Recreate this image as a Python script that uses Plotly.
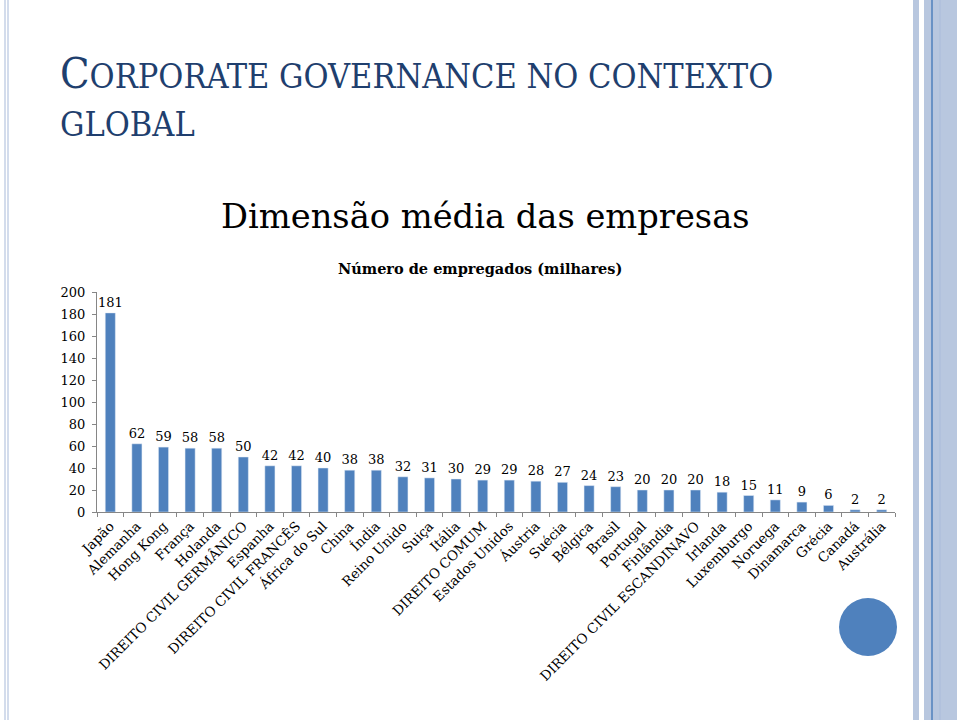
import plotly.graph_objects as go

categories = ["Japão", "Alemanha", "Hong Kong", "França", "Holanda",
              "DIREITO CIVIL GERMÂNICO", "Espanha", "DIREITO CIVIL FRANCÊS",
              "África do Sul", "China", "Índia", "Reino Unido", "Suiça", "Itália",
              "DIREITO COMUM", "Estados Unidos", "Áustria", "Suécia", "Bélgica",
              "Brasil", "Portugal", "Finlândia", "DIREITO CIVIL ESCANDINAVO",
              "Irlanda", "Luxemburgo", "Noruega", "Dinamarca", "Grécia", "Canadá",
              "Austrália"]
values = [181, 62, 59, 58, 58, 50, 42, 42, 40, 38, 38, 32, 31, 30, 29, 29, 28,
          27, 24, 23, 20, 20, 20, 18, 15, 11, 9, 6, 2, 2]
y_ticks = [0, 20, 40, 60, 80, 100, 120, 140, 160, 180, 200]

W, H = 960, 720
L, R, T, B = 97, 65, 292, 208
pw, ph = W - L - R, H - T - B

def px(x):
    return (x - L) / pw

def py(y):
    return (H - B - y) / ph

SERIF = "DejaVu Serif"
TITLE_FONT = "DejaVu Serif Condensed"
BLUE = "#4F81BD"

fig = go.Figure(go.Bar(
    x=categories, y=values, marker_color=BLUE,
    text=[str(v) for v in values], textposition="outside",
    textfont=dict(family=SERIF, size=13, color="black"),
    constraintext="none", cliponaxis=False,
))

shapes = []
# right decoration
shapes.append(dict(type="rect", xref="paper", yref="paper", x0=px(913), x1=px(919),
                   y0=py(720), y1=py(0), fillcolor="#B8C7DF", line_width=0, layer="below"))
shapes.append(dict(type="rect", xref="paper", yref="paper", x0=px(924), x1=px(957),
                   y0=py(720), y1=py(0), fillcolor="#B8C7DF", line_width=0, layer="below"))
shapes.append(dict(type="line", xref="paper", yref="paper", x0=px(932), x1=px(932),
                   y0=py(720), y1=py(0), line=dict(color="#4F81BD", width=1.5)))
shapes.append(dict(type="line", xref="paper", yref="paper", x0=px(940), x1=px(940),
                   y0=py(720), y1=py(0), line=dict(color="#A9BCDB", width=1)))
# left edge
shapes.append(dict(type="line", xref="paper", yref="paper", x0=px(5), x1=px(5),
                   y0=py(720), y1=py(0), line=dict(color="#C5D1E6", width=1.5)))
shapes.append(dict(type="line", xref="paper", yref="paper", x0=px(8), x1=px(8),
                   y0=py(720), y1=py(0), line=dict(color="#C5D1E6", width=1.5)))
# circle
shapes.append(dict(type="circle", xref="paper", yref="paper", x0=px(839), x1=px(897),
                   y0=py(656), y1=py(598), fillcolor=BLUE, line_width=0))

annotations = [
    dict(xref="paper", yref="paper", x=px(58), y=py(100), xanchor="left", yanchor="bottom",
         showarrow=False, align="left",
         text="<span style='font-size:43px'>C</span>ORPORATE GOVERNANCE NO CONTEXTO",
         font=dict(family=TITLE_FONT, size=34, color="#1F3F6E")),
    dict(xref="paper", yref="paper", x=px(58), y=py(146), xanchor="left", yanchor="bottom",
         showarrow=False, align="left", text="GLOBAL",
         font=dict(family=TITLE_FONT, size=34, color="#1F3F6E")),
    dict(xref="paper", yref="paper", x=px(485), y=py(216), xanchor="center", yanchor="middle",
         showarrow=False, text="Dimensão média das empresas",
         font=dict(family=SERIF, size=33.7, color="black")),
    dict(xref="paper", yref="paper", x=px(480), y=py(268), xanchor="center", yanchor="middle",
         showarrow=False, text="<b>Número de empregados (milhares)</b>",
         font=dict(family=SERIF, size=14.5, color="black")),
]

fig.update_layout(
    width=W, height=H, margin=dict(l=L, r=R, t=T, b=B, autoexpand=False),
    paper_bgcolor="white", plot_bgcolor="white",
    bargap=0.62, showlegend=False,
    shapes=shapes, annotations=annotations,
    font=dict(family=SERIF, color="black"),
)
fig.update_xaxes(showline=True, linecolor="#868686", linewidth=1, ticks="outside",
                 tickson="boundaries", ticklen=4, tickcolor="#868686", tickangle=-45,
                 tickfont=dict(family=SERIF, size=13.5, color="black"), showgrid=False)
fig.update_yaxes(range=[0, 200], tickvals=y_ticks, showline=True, linecolor="#868686",
                 linewidth=1, ticks="outside", ticklen=4, tickcolor="#868686",
                 showgrid=False, zeroline=False, ticklabelstandoff=4,
                 tickfont=dict(family=SERIF, size=13, color="black"))

fig.write_html("out.html", config={"displayModeBar": False},
               post_script="document.body.style.margin='0';document.body.style.overflow='hidden';")
